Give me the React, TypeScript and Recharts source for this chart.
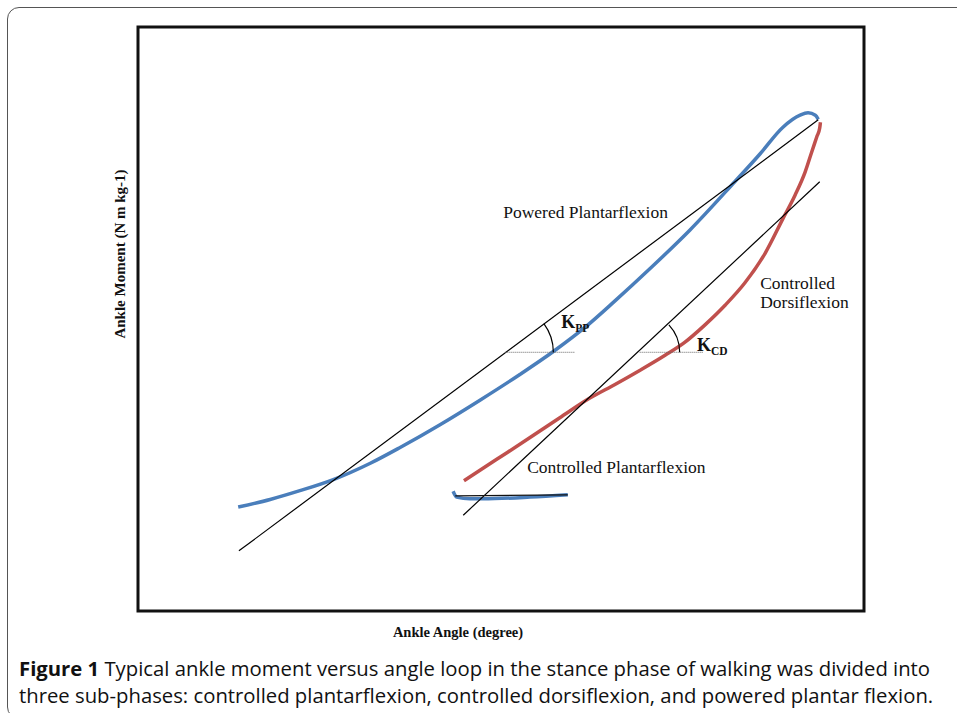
import { LineChart, Line, XAxis, YAxis, ReferenceLine, ReferenceDot, ReferenceArea } from "recharts";

// loop pieces, angle (x) vs moment (y), both on a 0-100 relative scale (no ticks in the figure)
const poweredPlantarflexion = [
  { x: 13.8, y: 17.8 }, { x: 18.2, y: 19.1 }, { x: 22.3, y: 20.6 }, { x: 26.9, y: 22.5 },
  { x: 32.0, y: 25.3 }, { x: 36.1, y: 28.0 }, { x: 41.6, y: 31.9 }, { x: 47.1, y: 36.1 },
  { x: 52.6, y: 40.5 }, { x: 57.4, y: 44.6 }, { x: 61.6, y: 48.6 }, { x: 65.7, y: 53.1 },
  { x: 70.5, y: 58.6 }, { x: 76.0, y: 65.2 }, { x: 82.2, y: 73.5 }, { x: 85.7, y: 78.3 },
  { x: 88.8, y: 82.8 }, { x: 91.2, y: 84.9 }, { x: 92.3, y: 85.3 }, { x: 93.3, y: 84.9 },
  { x: 93.7, y: 84.2 },
];
const controlledDorsiflexion = [
  { x: 44.9, y: 22.3 }, { x: 49.2, y: 25.8 }, { x: 54.0, y: 29.7 }, { x: 58.1, y: 33.1 },
  { x: 62.3, y: 36.5 }, { x: 65.7, y: 38.8 }, { x: 69.1, y: 41.2 }, { x: 72.6, y: 43.8 },
  { x: 75.3, y: 46.0 }, { x: 78.1, y: 49.0 }, { x: 80.9, y: 52.4 }, { x: 83.6, y: 56.2 },
  { x: 86.4, y: 61.3 }, { x: 88.8, y: 67.1 }, { x: 90.5, y: 71.2 }, { x: 91.9, y: 75.2 },
  { x: 92.8, y: 78.6 }, { x: 93.5, y: 81.2 }, { x: 93.9, y: 82.7 }, { x: 94.0, y: 83.7 },
];
const controlledPlantarflexion = [
  { x: 43.4, y: 20.5 }, { x: 43.9, y: 19.5 }, { x: 45.7, y: 19.2 }, { x: 47.5, y: 19.2 },
  { x: 54.0, y: 19.5 }, { x: 59.2, y: 19.9 },
];

// stiffness tangents and their horizontal references
const tangentPP = [{ x: 13.9, y: 10.3 }, { x: 93.7, y: 84.1 }];
const tangentCD = [{ x: 44.8, y: 16.4 }, { x: 93.9, y: 73.5 }];
const tangentCP = [{ x: 43.7, y: 19.7 }, { x: 59.2, y: 19.9 }];
const levelPP = [{ x: 50.6, y: 44.3 }, { x: 60.2, y: 44.3 }];
const levelCD = [{ x: 69.1, y: 44.3 }, { x: 77.8, y: 44.3 }];

const phaseLabels = [
  { x: 50.3, y: 67.3, lines: ["Powered Plantarflexion"] },
  { x: 85.7, y: 55.1, lines: ["Controlled", "Dorsiflexion"] },
  { x: 53.6, y: 23.6, lines: ["Controlled Plantarflexion"] },
];
const stiffnessLabels = [
  { x: 58.3, y: 48.5, sub: "PP" },
  { x: 77.0, y: 44.5, sub: "CD" },
];

const W = 957;
const H = 713;
const M = { top: 27, right: 93, bottom: 72, left: 98 };
const PLOT_W = W - M.left - M.right - 40;
const PLOT_H = H - M.top - M.bottom - 30;
const serif = "'Liberation Serif', 'Times New Roman', serif";
const BLUE = "#4a7ebb";
const RED = "#c0504d";

function slopeAngle(seg: { x: number; y: number }[]) {
  const dx = ((seg[1].x - seg[0].x) * PLOT_W) / 100;
  const dy = ((seg[1].y - seg[0].y) * PLOT_H) / 100;
  return Math.atan2(dy, dx);
}

function arcShape(r: number, a: number) {
  return (p: any) => {
    const { cx, cy } = p;
    const ex = cx + r * Math.cos(a);
    const ey = cy - r * Math.sin(a);
    return <path d={`M${cx + r},${cy} A${r},${r} 0 0 0 ${ex},${ey}`} fill="none" stroke="#000" strokeWidth={1.2} />;
  };
}

export default function App() {
  return (
    <div style={{ position: "absolute", left: 0, top: 0, width: W, height: H, overflow: "hidden", background: "#fff" }}>
      <div style={{ position: "absolute", left: 7, top: 7, width: 1000, height: 712, border: "1.5px solid #555", borderRadius: 12, boxSizing: "border-box" }} />
      <div style={{ position: "absolute", left: 0, top: 0 }}>
        <LineChart width={W} height={H} margin={M}>
          <XAxis
            type="number"
            dataKey="x"
            domain={[0, 100]}
            height={30}
            axisLine={false}
            tickLine={false}
            tick={false}
            label={{
              content: ({ viewBox }: any) => (
                <text x={viewBox.x + 320} y={viewBox.y + 26} textAnchor="middle" fontFamily={serif} fontWeight="bold" fontSize={14.5} fill="#111">
                  Ankle Angle (degree)
                </text>
              ),
            }}
          />
          <YAxis
            type="number"
            domain={[0, 100]}
            width={40}
            axisLine={false}
            tickLine={false}
            tick={false}
            label={{
              content: ({ viewBox }: any) => (
                <text
                  x={viewBox.x + 22}
                  y={254}
                  transform={`rotate(-90, ${viewBox.x + 22}, 254)`}
                  textAnchor="middle"
                  dominantBaseline="central"
                  fontFamily={serif}
                  fontWeight="bold"
                  fontSize={15}
                  fill="#111"
                >
                  Ankle Moment (N m kg-1)
                </text>
              ),
            }}
          />
          <ReferenceArea x1={0} x2={100} y1={0} y2={100} fill="none" stroke="#111" strokeWidth={3} />
          <Line data={poweredPlantarflexion} dataKey="y" type="monotone" stroke={BLUE} strokeWidth={3.5} dot={false} isAnimationActive={false} />
          <Line data={controlledDorsiflexion} dataKey="y" type="monotone" stroke={RED} strokeWidth={3.5} dot={false} isAnimationActive={false} />
          <Line data={controlledPlantarflexion} dataKey="y" type="monotone" stroke={BLUE} strokeWidth={3.5} dot={false} isAnimationActive={false} />
          <ReferenceLine segment={tangentPP} stroke="#000" strokeWidth={1.2} />
          <ReferenceLine segment={tangentCD} stroke="#000" strokeWidth={1.2} />
          <ReferenceLine segment={tangentCP} stroke="#111" strokeWidth={1.2} />
          <ReferenceLine segment={levelPP} stroke="#666" strokeWidth={1} strokeDasharray="1 1" />
          <ReferenceLine segment={levelCD} stroke="#666" strokeWidth={1} strokeDasharray="1 1" />
          <ReferenceDot x={levelPP[0].x} y={levelPP[0].y} r={0} shape={arcShape(48, slopeAngle(tangentPP))} />
          <ReferenceDot x={levelCD[0].x} y={levelCD[0].y} r={0} shape={arcShape(40, slopeAngle(tangentCD))} />
          {phaseLabels.map((l) => (
            <ReferenceDot
              key={l.lines[0] + l.x}
              x={l.x}
              y={l.y}
              r={0}
              shape={(p: any) => (
                <text x={p.cx} y={p.cy} fontFamily={serif} fontSize={17.5} fill="#111">
                  {l.lines.map((t, i) => (
                    <tspan key={t} x={p.cx} dy={i === 0 ? 0 : 19}>{t}</tspan>
                  ))}
                </text>
              )}
            />
          ))}
          {stiffnessLabels.map((l) => (
            <ReferenceDot
              key={l.sub}
              x={l.x}
              y={l.y}
              r={0}
              shape={(p: any) => (
                <text x={p.cx} y={p.cy} fontFamily={serif} fontSize={18} fontWeight="bold" fill="#111">
                  K<tspan fontSize={11.5} dy={4}>{l.sub}</tspan>
                </text>
              )}
            />
          ))}
        </LineChart>
      </div>
      <div
        style={{
          position: "absolute",
          left: 19,
          top: 655,
          whiteSpace: "nowrap",
          fontFamily: "'Open Sans', 'Noto Sans', sans-serif",
          fontSize: 20.3,
          lineHeight: "27px",
          color: "#111",
        }}
      >
        <b>Figure 1</b> Typical ankle moment versus angle loop in the stance phase of walking was divided into
        <br />
        three sub-phases: controlled plantarflexion, controlled dorsiflexion, and powered plantar flexion.
      </div>
    </div>
  );
}
